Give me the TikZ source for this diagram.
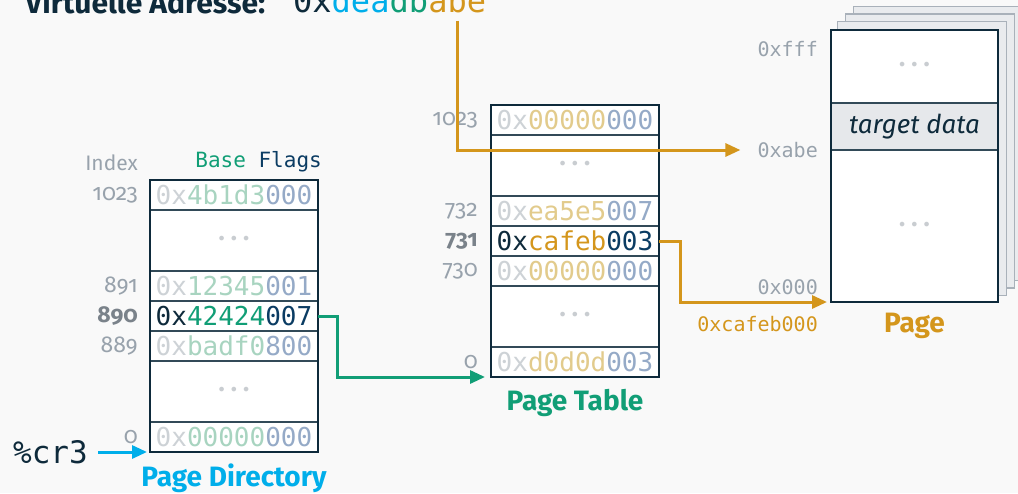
\documentclass[tikz,border=0pt]{standalone}
\usepackage{fontspec}
\setmainfont{Fira Sans}
\setmonofont{DejaVu Sans Mono}
\newfontfamily\idxfont{Fira Sans}[Numbers=OldStyle]
\usetikzlibrary{positioning, fit, calc, arrows.meta, backgrounds}

\definecolor{bg}{HTML}{F9F9F9}
\definecolor{ink}{HTML}{0E2A3B}
\definecolor{navy}{HTML}{0B3C63}
\definecolor{cyanish}{HTML}{00AEEA}
\definecolor{greenish}{HTML}{119E76}
\definecolor{gold}{HTML}{D4961C}
\definecolor{labelgray}{HTML}{98A2AC}
\definecolor{zerox}{HTML}{CDD2D6}
\definecolor{dimgreen}{HTML}{A8D4C0}
\definecolor{dimgold}{HTML}{E2CB8C}
\definecolor{flagdim}{HTML}{95AAC7}
\definecolor{dotgray}{HTML}{C9CDD1}
\definecolor{sheetfill}{HTML}{E9EBEE}
\definecolor{sheetline}{HTML}{A9B1BA}
\definecolor{targetfill}{HTML}{E6E8EB}

\newcommand{\dimhex}[3]{\textcolor{zerox}{0x}\textcolor{#1}{#2}\textcolor{flagdim}{#3}}
\newcommand{\hothex}[3]{\textcolor{ink}{0x}\textcolor{#1}{#2}\textcolor{navy}{#3}}
\newcommand{\rowdots}{\textcolor{dotgray}{\fontsize{16}{16}\selectfont\textbullet\,\textbullet\,\textbullet}}

\begin{document}
\begin{tikzpicture}[
        x=1pt, y=-1pt,
        row/.style={draw=ink!85, line width=1.1pt, fill=white, minimum width=168pt, minimum height=30pt, inner sep=0pt, outer sep=0pt, font=\ttfamily\fontsize{26}{26}\selectfont},
        gap/.style={row, minimum height=61pt},
        pagerow/.style={row, minimum width=167pt},
        frame/.style={draw=ink, line width=2pt, inner sep=0pt},
        idx/.style={inner sep=0pt, text=labelgray, font=\idxfont\fontsize{23}{23}\selectfont},
        idxhot/.style={idx, text=labelgray!80!black, font=\idxfont\bfseries\fontsize{23}{23}\selectfont},
        addr/.style={inner sep=0pt, text=labelgray, font=\ttfamily\fontsize{20}{20}\selectfont},
        caption/.style={inner sep=0pt, font=\bfseries\fontsize{28}{28}\selectfont},
        ptr/.style={line width=3pt, -{Triangle[length=15pt, width=13pt]}},
        sheet/.style={fill=sheetfill, draw=sheetline, line width=1.1pt}
    ]
        \useasboundingbox (0,0) rectangle (1018,493);

        % --- TITLE ---
        \node[anchor=base west, inner sep=0pt, text=ink, font=\bfseries\fontsize{30}{30}\selectfont] (vtitle) at (25,13) {Virtuelle Adresse:};
        \node[anchor=base west, inner sep=0pt, font=\ttfamily\fontsize{32}{32}\selectfont] (vhigh) at (293,12) {\textcolor{ink}{0x}\textcolor{cyanish}{dea}\textcolor{greenish}{db}};
        \node[anchor=base west, inner sep=0pt, font=\ttfamily\fontsize{32}{32}\selectfont] (voff) at (vhigh.base east) {\textcolor{gold}{abe}};

        % --- PAGE DIRECTORY ---
        \node[row, anchor=north west] (pd1023) at (150,180) {\dimhex{dimgreen}{4b1d3}{000}};
        \node[gap, below=0pt of pd1023] (pdgapa) {\rowdots};
        \node[row, below=0pt of pdgapa] (pd891) {\dimhex{dimgreen}{12345}{001}};
        \node[row, below=0pt of pd891] (pd890) {\hothex{greenish}{42424}{007}};
        \node[row, below=0pt of pd890] (pd889) {\dimhex{dimgreen}{badf0}{800}};
        \node[gap, below=0pt of pd889] (pdgapb) {\rowdots};
        \node[row, below=0pt of pdgapb] (pd0) {\dimhex{dimgreen}{00000}{000}};
        \node[frame, fit=(pd1023)(pd0)] (pdir) {};

        \node[idx, left=12pt of pd1023] (ipd1023) {1023};
        \node[idx, left=12pt of pd891] {891};
        \node[idxhot, left=12pt of pd890] {890};
        \node[idx, left=12pt of pd889] {889};
        \node[idx, left=12pt of pd0] {0};

        \node[inner sep=0pt, above left=8pt and -4pt of pd1023.north east, font=\ttfamily\fontsize{21}{21}\selectfont] (hdr) {\textcolor{greenish}{Base} \textcolor{navy}{Flags}};
        \node[inner sep=0pt, anchor=base east, text=labelgray, font=\fontsize{21}{21}\selectfont] at ([yshift=-3pt]hdr.base -| ipd1023.east) {Index};

        \node[caption, text=cyanish, below=11pt of pdir] {Page Directory};

        \node[inner sep=0pt, left=62pt of pd0.south west, text=ink, font=\ttfamily\fontsize{31}{31}\selectfont] (cr3) {\%cr3};

        % --- PAGE TABLE ---
        \node[row, anchor=north west] (pt1023) at (491,105) {\dimhex{dimgold}{00000}{000}};
        \node[gap, below=0pt of pt1023] (ptgapa) {\rowdots};
        \node[row, below=0pt of ptgapa] (pt732) {\dimhex{dimgold}{ea5e5}{007}};
        \node[row, below=0pt of pt732] (pt731) {\hothex{gold}{cafeb}{003}};
        \node[row, below=0pt of pt731] (pt730) {\dimhex{dimgold}{00000}{000}};
        \node[gap, below=0pt of pt730] (ptgapb) {\rowdots};
        \node[row, below=0pt of ptgapb] (pt0) {\dimhex{dimgold}{d0d0d}{003}};
        \node[frame, fit=(pt1023)(pt0)] (ptab) {};

        \node[idx, left=13pt of pt1023] {1023};
        \node[idx, left=13pt of pt732] {732};
        \node[idxhot, left=13pt of pt731] {731};
        \node[idx, left=13pt of pt730] {730};
        \node[idx, left=13pt of pt0] {0};

        \node[caption, text=greenish, below=11pt of ptab] {Page Table};

        % --- PAGE ---
        \node[pagerow, minimum height=73pt, anchor=north west] (pgtop) at (831,30) {\rowdots};
        \node[pagerow, minimum height=47pt, fill=targetfill, below=0pt of pgtop, font=\itshape\fontsize{26}{26}\selectfont, text=ink] (pgdata) {target data};
        \node[pagerow, minimum height=152pt, below=0pt of pgdata] (pgbot) {\rowdots};
        \node[frame, fit=(pgtop)(pgbot)] (page) {};

        \node[addr, below left=11pt and 13pt of pgtop.north west] {0xfff};
        \node[addr, left=13pt of pgdata.south west] (labe) {0xabe};
        \node[addr, above left=7pt and 13pt of pgbot.south west] {0x000};
        \node[addr, text=gold, below left=14pt and 13pt of pgbot.south west] {0xcafeb000};

        \node[caption, text=gold, below=10pt of page] {Page};

        \begin{scope}[on background layer]
            \fill[bg] (0,0) rectangle (1018,493);
            \foreach \k in {3,2,1}
                \draw[sheet] ($(page.north west)+(7.7*\k,-7.5*\k)$) rectangle ($(page.south east)+(7.7*\k,-7.5*\k)$);
        \end{scope}

        % --- POINTERS ---
        \draw[ptr, cyanish, shorten <=10pt, shorten >=3pt] (cr3.east) -- (cr3.east -| pd0.west);
        \draw[ptr, greenish, shorten >=6pt] (pd890.east) -- ++(19,0) |- (pt0.south west);
        \draw[ptr, gold, shorten >=4pt] (pt731.east) -- ++(21,0) |- (pgbot.south west);
        \draw[ptr, gold, shorten <=8pt, shorten >=17pt] (voff.south) |- (labe.west);

    \end{tikzpicture}
\end{document}
